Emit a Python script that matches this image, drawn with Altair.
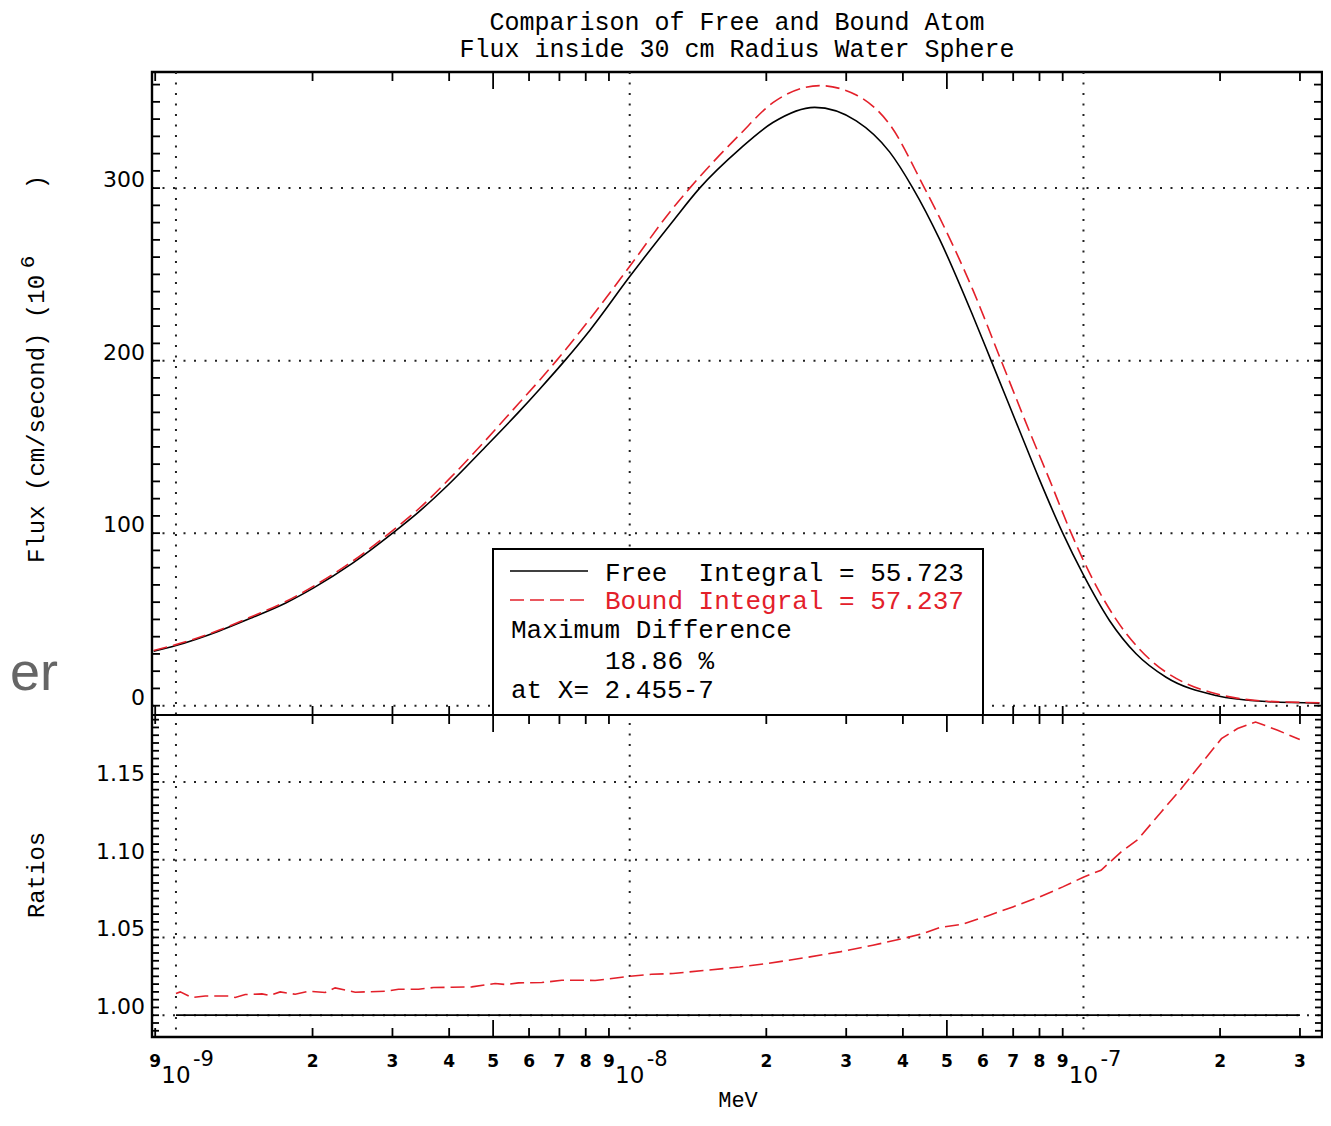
import altair as alt
import pandas as pd

# ---------------- data ----------------
free_energy = [8.93e-10, 1.000e-9, 1.242e-9, 1.470e-9, 1.741e-9, 2.011e-9, 2.442e-9, 3.002e-9,
               3.424e-9, 3.988e-9, 4.800e-9, 5.685e-9, 6.337e-9, 7.193e-9, 8.165e-9, 1.002e-8,
               1.246e-8, 1.426e-8, 1.747e-8, 2.068e-8, 2.556e-8, 3.157e-8, 3.738e-8, 4.207e-8,
               4.817e-8, 5.705e-8, 6.260e-8, 7.228e-8, 8.000e-8, 9.003e-8,
               9.965e-8, 1.141e-7, 1.306e-7, 1.521e-7, 1.960e-7, 2.526e-7, 3.311e-7]
free_flux = [31.6, 34.9, 43.2, 51.0, 59.4, 68.3, 82.3, 100.0,
             112.2, 128.2, 149.8, 170.0, 183.6, 200.0, 217.5, 249.0,
             281.0, 300.0, 322.6, 338.0, 346.8, 339.0, 321.0, 300.0,
             270.4, 226.0, 200.0, 159.5, 131.0, 100.0,
             76.5, 49.4, 30.1, 16.5, 5.9, 2.4, 1.5]

bound_energy = [8.93e-10, 1.000e-9, 1.242e-9, 1.470e-9, 1.741e-9, 2.011e-9, 2.442e-9, 3.002e-9,
                3.424e-9, 3.988e-9, 4.800e-9, 5.685e-9, 6.337e-9, 6.896e-9, 8.165e-9, 1.002e-8,
                1.246e-8, 1.356e-8, 1.747e-8, 2.068e-8, 2.621e-8, 3.157e-8, 3.738e-8, 4.464e-8,
                4.817e-8, 5.705e-8, 6.586e-8, 7.603e-8, 8.417e-8, 9.396e-8,
                9.965e-8, 1.180e-7, 1.398e-7, 1.655e-7, 1.960e-7, 2.526e-7, 3.311e-7]
bound_flux = [32.0, 35.4, 43.7, 51.7, 60.2, 69.3, 83.5, 101.5,
              114.0, 131.0, 153.5, 175.0, 188.8, 200.0, 224.0, 255.0,
              288.5, 300.0, 331.0, 349.5, 359.4, 354.0, 337.0, 300.0,
              283.0, 241.0, 200.0, 159.0, 131.0, 100.0,
              85.0, 50.0, 27.0, 13.8, 6.9, 2.6, 1.7]

ratio_energy = [1.000e-9, 1.022e-9, 1.084e-9, 1.160e-9, 1.307e-9, 1.351e-9, 1.421e-9, 1.547e-9,
                1.613e-9, 1.697e-9, 1.831e-9, 1.960e-9, 2.133e-9, 2.243e-9, 2.483e-9, 2.891e-9,
                3.094e-9, 3.424e-9, 3.695e-9, 4.055e-9, 4.487e-9, 5.050e-9, 5.358e-9, 5.685e-9,
                6.401e-9, 7.085e-9, 7.842e-9, 8.389e-9, 1.002e-8, 1.118e-8, 1.246e-8, 1.475e-8,
                1.747e-8, 2.006e-8, 2.450e-8, 2.901e-8, 3.435e-8, 4.000e-8, 4.426e-8, 4.817e-8,
                5.422e-8, 6.209e-8, 6.988e-8, 8.000e-8, 9.003e-8, 1.002e-7, 1.093e-7, 1.160e-7,
                1.211e-7, 1.317e-7, 1.484e-7, 1.643e-7, 1.819e-7, 2.014e-7, 2.186e-7, 2.395e-7,
                2.679e-7, 2.997e-7]
ratio_value = [1.0139, 1.0150, 1.0114, 1.0124, 1.0124, 1.0114, 1.0133, 1.0137,
               1.0127, 1.0150, 1.0135, 1.0154, 1.0146, 1.0176, 1.0148, 1.0154,
               1.0167, 1.0167, 1.0178, 1.0180, 1.0182, 1.0204, 1.0197, 1.0208,
               1.0210, 1.0225, 1.0225, 1.0223, 1.0251, 1.0263, 1.0268, 1.0289,
               1.0310, 1.0332, 1.0371, 1.0407, 1.0450, 1.0493, 1.0525, 1.0564,
               1.0585, 1.0643, 1.0696, 1.0760, 1.0825, 1.0889, 1.0932, 1.1000,
               1.1050, 1.1129, 1.1307, 1.1457, 1.1618, 1.1778, 1.1843, 1.1885,
               1.1832, 1.1772]

ratio_free_span = [1.0e-9, 3.0e-7]
ratio_free_value = 1.0

decades = [1e-9, 1e-8, 1e-7]
decade_exponents = ["-9", "-8", "-7"]
minor_ticks = [9e-10, 2e-9, 3e-9, 4e-9, 6e-9, 7e-9, 8e-9, 9e-9,
               2e-8, 3e-8, 4e-8, 6e-8, 7e-8, 8e-8, 9e-8, 2e-7, 3e-7]
five_ticks = [5e-9, 5e-8]
x_label_values = [9e-10, 2e-9, 3e-9, 4e-9, 5e-9, 6e-9, 7e-9, 8e-9, 9e-9,
                  2e-8, 3e-8, 4e-8, 5e-8, 6e-8, 7e-8, 8e-8, 9e-8, 2e-7, 3e-7]
x_label_texts = ["9", "2", "3", "4", "5", "6", "7", "8", "9",
                 "2", "3", "4", "5", "6", "7", "8", "9", "2", "3"]

flux_grid = [0, 100, 200, 300]
flux_labels = ["0", "100", "200", "300"]
flux_minor = [v * 10 for v in range(0, 37)]
ratio_grid = [1.00, 1.05, 1.10, 1.15]
ratio_labels = ["1.00", "1.05", "1.10", "1.15"]
ratio_minor = [round(0.99 + 0.005 * i, 3) for i in range(0, 41)]

title_lines = ["Comparison of Free and Bound Atom", "Flux inside 30 cm Radius Water Sphere"]

# ---------------- layout ----------------
W, H = 1170, 965
TOP_H = 643
RED = "#e3202a"
MONO = "Liberation Mono"
SANS = "DejaVu Sans"

x_scale = alt.Scale(type="log", domain=[8.855e-10, 3.355e-7], nice=False)
y_top = alt.Scale(domain=[-5.4, 367.3], range=[TOP_H, 0], nice=False, zero=False)
y_bot = alt.Scale(domain=[0.986, 1.193], range=[H, TOP_H], nice=False, zero=False)


def X(f):
    return alt.X(f"{f}:Q", scale=x_scale, axis=None)


def YT(f):
    return alt.Y(f"{f}:Q", scale=y_top, axis=None)


def YB(f):
    return alt.Y(f"{f}:Q", scale=y_bot, axis=None)


free_df = pd.DataFrame({"E": free_energy, "flux": free_flux})
bound_df = pd.DataFrame({"E": bound_energy, "flux": bound_flux})
ratio_df = pd.DataFrame({"E": ratio_energy, "r": ratio_value})
ratio_free_df = pd.DataFrame({"E0": [ratio_free_span[0]], "E1": [ratio_free_span[1]], "r": [ratio_free_value]})
dec_df = pd.DataFrame({"E": decades, "exp": decade_exponents, "ten": ["10"] * len(decades)})
minor_df = pd.DataFrame({"E": minor_ticks})
five_df = pd.DataFrame({"E": five_ticks})
xlab_df = pd.DataFrame({"E": x_label_values, "t": x_label_texts})
fgrid_df = pd.DataFrame({"v": flux_grid, "t": flux_labels})
rgrid_df = pd.DataFrame({"v": ratio_grid, "t": ratio_labels})
fminor_df = pd.DataFrame({"v": flux_minor})
rminor_df = pd.DataFrame({"v": ratio_minor})

dot = dict(strokeDash=[2, 8.5], color="#222222", strokeWidth=2)
tick = dict(color="black", strokeWidth=1.8)

layers = []
# grid
layers.append(alt.Chart(dec_df).mark_rule(**dot).encode(x=X("E"), y=alt.value(0), y2=alt.value(H)))
layers.append(alt.Chart(fgrid_df).mark_rule(**dot).encode(y=YT("v"), x=alt.value(0), x2=alt.value(W)))
layers.append(alt.Chart(rgrid_df).mark_rule(**dot).encode(y=YB("v"), x=alt.value(0), x2=alt.value(W)))
# y ticks (inward, both sides)
layers.append(alt.Chart(fminor_df).mark_rule(**tick).encode(y=YT("v"), x=alt.value(0), x2=alt.value(8)))
layers.append(alt.Chart(fminor_df).mark_rule(**tick).encode(y=YT("v"), x=alt.value(W - 8), x2=alt.value(W)))
layers.append(alt.Chart(rminor_df).mark_rule(**tick).encode(y=YB("v"), x=alt.value(0), x2=alt.value(7)))
layers.append(alt.Chart(rminor_df).mark_rule(**tick).encode(y=YB("v"), x=alt.value(W - 7), x2=alt.value(W)))
# x ticks
for df, ln in ((minor_df, 9), (five_df, 17)):
    layers.append(alt.Chart(df).mark_rule(**tick).encode(x=X("E"), y=alt.value(0), y2=alt.value(ln)))
    layers.append(alt.Chart(df).mark_rule(**tick).encode(x=X("E"), y=alt.value(TOP_H - ln), y2=alt.value(TOP_H + ln)))
    layers.append(alt.Chart(df).mark_rule(**tick).encode(x=X("E"), y=alt.value(H - ln), y2=alt.value(H)))
# curves
layers.append(alt.Chart(free_df).mark_line(color="black", strokeWidth=1.6, interpolate="monotone")
              .encode(x=X("E"), y=YT("flux")))
layers.append(alt.Chart(bound_df).mark_line(color=RED, strokeWidth=1.6, strokeDash=[14, 6], interpolate="monotone")
              .encode(x=X("E"), y=YT("flux")))
layers.append(alt.Chart(ratio_free_df).mark_rule(color="black", strokeWidth=1.8)
              .encode(x=X("E0"), x2="E1", y=YB("r")))
layers.append(alt.Chart(ratio_df).mark_line(color=RED, strokeWidth=1.6, strokeDash=[14, 6])
              .encode(x=X("E"), y=YB("r")))

# legend box
one = pd.DataFrame({"k": [0]})
layers.append(alt.Chart(one).mark_rect(fill="white", stroke="black", strokeWidth=2)
              .encode(x=alt.value(341), x2=alt.value(831), y=alt.value(477), y2=alt.value(643)))
layers.append(alt.Chart(one).mark_rule(color="black", strokeWidth=1.6)
              .encode(x=alt.value(358), x2=alt.value(436), y=alt.value(499)))
layers.append(alt.Chart(one).mark_rule(color=RED, strokeWidth=1.6, strokeDash=[14, 6])
              .encode(x=alt.value(358), x2=alt.value(436), y=alt.value(528)))


def text_layer(txt, x, y, **kw):
    base = dict(font=MONO, fontSize=26, align="left", baseline="middle", color="black")
    base.update(kw)
    return alt.Chart(pd.DataFrame({"t": [txt]})).mark_text(x=x, y=y, **base).encode(text="t:N")


layers.append(text_layer("Free\u00a0\u00a0Integral = 55.723", 453, 501))
layers.append(text_layer("Bound Integral = 57.237", 453, 529, color=RED))
layers.append(text_layer("Maximum Difference", 359, 558))
layers.append(text_layer("18.86 %", 453, 589))
layers.append(text_layer("at X= 2.455-7", 359, 618))

# panel boundary
layers.append(alt.Chart(one).mark_rule(color="black", strokeWidth=2.2)
              .encode(x=alt.value(0), x2=alt.value(W), y=alt.value(TOP_H)))

# y labels
layers.append(alt.Chart(fgrid_df).mark_text(align="right", baseline="middle", dx=-7, dy=-8, font=SANS, fontSize=22)
              .encode(x=alt.value(0), y=YT("v"), text="t:N"))
layers.append(alt.Chart(rgrid_df).mark_text(align="right", baseline="middle", dx=-7, dy=-8, font=SANS, fontSize=22)
              .encode(x=alt.value(0), y=YB("v"), text="t:N"))
# x labels
layers.append(alt.Chart(xlab_df).mark_text(align="center", baseline="middle", font=SANS, fontSize=17, fontWeight="bold")
              .encode(x=X("E"), y=alt.value(990), text="t:N"))
layers.append(alt.Chart(dec_df).mark_text(align="center", baseline="middle", font=SANS, fontSize=23)
              .encode(x=X("E"), y=alt.value(1004), text="ten:N"))
layers.append(alt.Chart(dec_df).mark_text(align="left", baseline="middle", dx=17, font=SANS, fontSize=21)
              .encode(x=X("E"), y=alt.value(988), text="exp:N"))

# titles
layers.append(text_layer(title_lines[0], 585, -50, align="center", fontSize=25))
layers.append(text_layer(title_lines[1], 585, -23, align="center", fontSize=25))
layers.append(text_layer("MeV", 586, 1035, align="center", baseline="alphabetic", fontSize=22))
layers.append(text_layer("Flux (cm/second) (10", -115, 491, angle=270, fontSize=24))
layers.append(text_layer("6", -124, 190, angle=270, fontSize=21, align="center"))
layers.append(text_layer(")", -115, 110, angle=270, fontSize=24, align="center"))
layers.append(text_layer("Ratios", -115, 803, angle=270, fontSize=24, align="center"))
layers.append(text_layer("er", -142, 618, align="left", baseline="alphabetic", font="Liberation Sans",
                         fontSize=54, color="#666666"))

chart = (
    alt.layer(*layers)
    .resolve_scale(y="independent")
    .properties(
        width=W,
        height=H,
        autosize=alt.AutoSizeParams(type="none"),
        padding={"left": 144, "top": 64, "right": 1, "bottom": 77},
        background="white",
    )
    .configure_view(stroke="black", strokeWidth=2.4)
)

chart.save("out.html", embed_options={"renderer": "svg", "actions": False})
